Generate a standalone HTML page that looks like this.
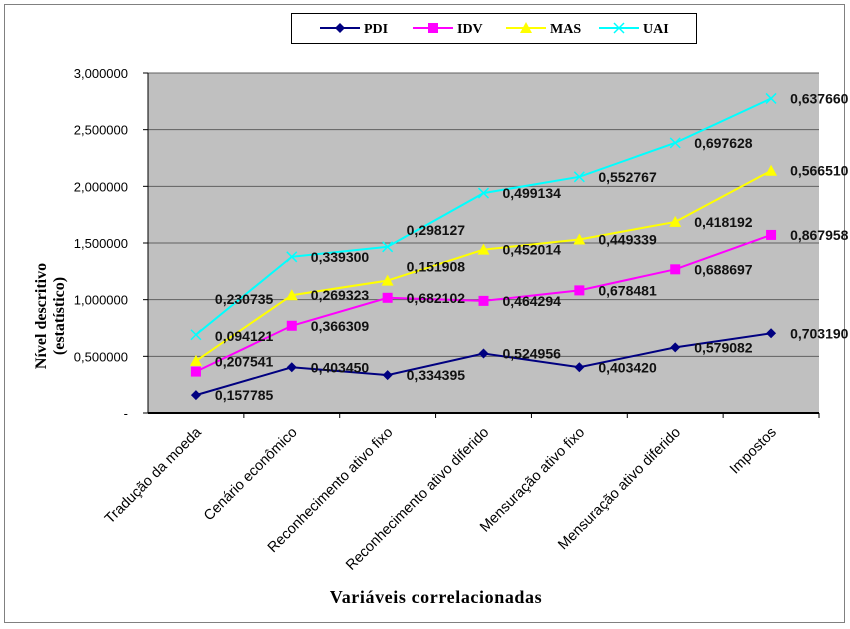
<!DOCTYPE html>
<html><head><meta charset="utf-8"><style>
body{margin:0;background:#fff;}
svg{display:block;}
text{font-family:"Liberation Sans",sans-serif;}
.ser{font-family:"Liberation Serif",serif;font-weight:bold;}
</style></head><body>
<svg id="chart" width="850" height="629" xmlns="http://www.w3.org/2000/svg">
<rect x="4.5" y="4.5" width="840" height="618" fill="#fff" stroke="#808080"/>
<rect x="148" y="73" width="671" height="340" fill="#c0c0c0"/>
<g id="grid"></g><g id="axes"></g><g id="lines"></g><g id="labels"></g>
<g>
<rect x="291.5" y="13.5" width="405" height="30" fill="#fff" stroke="#000"/>
<g id="legend"></g>
</g>
<text class="ser" x="436" y="603" font-size="18" text-anchor="middle" letter-spacing="0.6">Variáveis correlacionadas</text>
<text class="ser" transform="translate(46,316) rotate(-90)" font-size="16" text-anchor="middle"><tspan x="0" dy="0">Nível descritivo</tspan><tspan x="0" dy="18">(estatístico)</tspan></text>
</svg>
<script>
const categories=["Tradução da moeda","Cenário econômico","Reconhecimento ativo fixo","Reconhecimento ativo diferido","Mensuração ativo fixo","Mensuração ativo diferido","Impostos"];
const seriesNames=["PDI","IDV","MAS","UAI"];
const pdi=[0.157785,0.403450,0.334395,0.524956,0.403420,0.579082,0.703190];
const idv=[0.207541,0.366309,0.682102,0.464294,0.678481,0.688697,0.867958];
const mas=[0.094121,0.269323,0.151908,0.452014,0.449339,0.418192,0.566510];
const uai=[0.230735,0.339300,0.298127,0.499134,0.552767,0.697628,0.637660];
const yTicks=[0,0.5,1,1.5,2,2.5,3];
const yTickLabels=["-","0,500000","1,000000","1,500000","2,000000","2,500000","3,000000"];
const colors=["#000080","#ff00ff","#ffff00","#00ffff"];
const labelDy=[[0,0,0,0,0,0,0],[-10,0,0,0,0,0,0],[-25,0,-14,0,0,0,0],[-36,0,-17,0,0,0,0]];
const NS="http://www.w3.org/2000/svg";
const X0=148,X1=819,Y0=413,Y1=73,YMAX=3;
const step=(X1-X0)/categories.length;
const xs=i=>X0+step*(i+0.5);
const ys=v=>Y0-(v/YMAX)*(Y0-Y1);
function mk(tag,attrs,parent){const e=document.createElementNS(NS,tag);for(const k in attrs)e.setAttribute(k,attrs[k]);parent.appendChild(e);return e;}
const grid=document.getElementById('grid'),axes=document.getElementById('axes'),lines=document.getElementById('lines'),labels=document.getElementById('labels'),legend=document.getElementById('legend');
yTicks.forEach((t,i)=>{
  if(t>0){const g=mk('line',{x1:X0,x2:X1,y1:ys(t),y2:ys(t),stroke:'#606060','stroke-width':1},grid);
  
  }
  const tk=mk('line',{x1:X0-5,x2:X0,y1:ys(t),y2:ys(t),stroke:'#000'},axes);
  
  
  const tx=mk('text',{x:128,y:ys(t)+5,'font-size':13,'text-anchor':'end'},axes);
  tx.textContent=yTickLabels[i];
  
  
});
const ya=mk('line',{x1:X0,x2:X0,y1:Y1,y2:Y0,stroke:'#000'},axes);


const xa=mk('line',{x1:X0,x2:X1,y1:Y0,y2:Y0,stroke:'#000','stroke-width':2},axes);


categories.forEach((c,i)=>{
  const tk=mk('line',{x1:X0+step*(i+1),x2:X0+step*(i+1),y1:Y0,y2:Y0+5,stroke:'#000'},axes);
  
  
  const t=mk('text',{transform:`translate(${xs(i)+6},433) rotate(-45)`,'font-size':14.5,'text-anchor':'end'},axes);
  t.textContent=c;
  
  
});
function marker(type,x,y,col,parent){
  let e;
  if(type===0)e=mk('polygon',{points:`${x},${y-5} ${x+5},${y} ${x},${y+5} ${x-5},${y}`,fill:col},parent);
  else if(type===1)e=mk('rect',{x:x-5,y:y-5,width:10,height:10,fill:col},parent);
  else if(type===2)e=mk('polygon',{points:`${x},${y-6} ${x+6},${y+5} ${x-6},${y+5}`,fill:col},parent);
  else e=mk('path',{d:`M${x-5},${y-5}L${x+5},${y+5}M${x+5},${y-5}L${x-5},${y+5}`,stroke:col,'stroke-width':1.5,fill:'none'},parent);
  return e;
}
const all=[pdi,idv,mas,uai];
const cum=categories.map(()=>0);
all.forEach((s,si)=>{
  const tops=s.map((v,i)=>{cum[i]+=v;return cum[i];});
  const g=mk('g',{},lines);
  
  
  const pl=mk('polyline',{points:tops.map((v,i)=>xs(i)+','+ys(v)).join(' '),fill:'none',stroke:colors[si],'stroke-width':2},g);
  
  
  tops.forEach((v,i)=>{
    const m=marker(si,xs(i),ys(v),colors[si],g);
    
    
    const t=mk('text',{x:xs(i)+19,y:ys(v)+5+labelDy[si][i],'font-size':14,'font-weight':'bold',fill:'#111'},labels);
    t.textContent=s[i].toFixed(6).replace('.',',');
    
    
  });
});
const legX=[320,413,506,599];
seriesNames.forEach((n,i)=>{
  const g=mk('g',{},legend);
  
  
  mk('line',{x1:legX[i],x2:legX[i]+40,y1:28,y2:28,stroke:colors[i],'stroke-width':2},g);
  marker(i,legX[i]+20,28,colors[i],g);
  const t=mk('text',{x:legX[i]+44,y:33,'font-size':14,class:'ser'},g);
  t.textContent=n;
});
</script>
</body></html>
